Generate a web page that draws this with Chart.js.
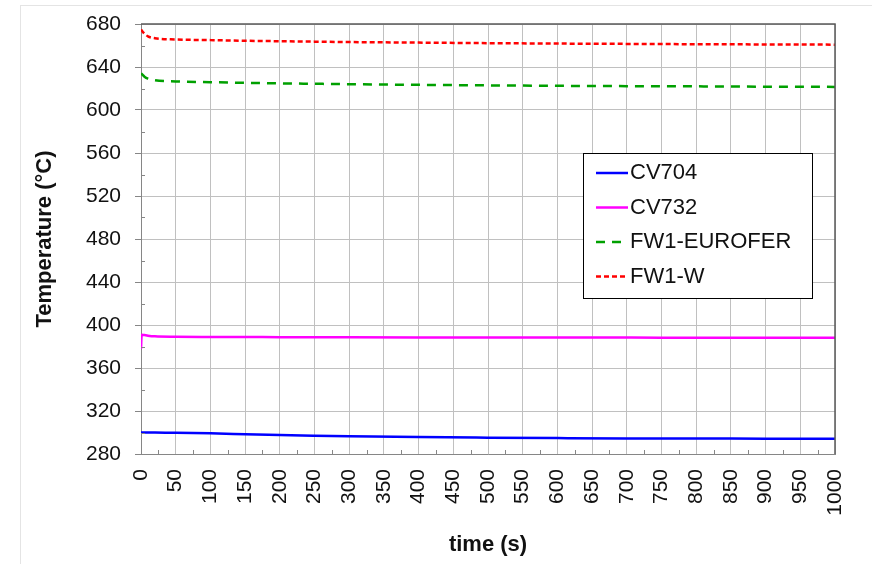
<!DOCTYPE html>
<html>
<head>
<meta charset="utf-8">
<script src="https://cdn.jsdelivr.net/npm/chart.js@4/dist/chart.umd.min.js"></script>
<style>
  body { margin: 0; background: #fff; }
  #frame { position: absolute; left: 20px; top: 5px; width: 860px; height: 570px;
           border-top: 1px solid #e4e4e4; border-left: 1px solid #e4e4e4; }
  #chart { position: absolute; left: 0; top: 0; }
</style>
</head>
<body>
<div id="frame"></div>
<canvas id="chart" width="872" height="564"></canvas>
<script>
// Time points (s)
const times = [0, 1, 5, 10, 20, 50, 100, 150, 200, 250, 300, 400, 500, 600, 700, 800, 900, 1000];

// Temperatures (°C)
const cv704 = [300, 300, 300, 300, 299.9, 299.7, 299.2, 298.4, 297.6, 297, 296.5, 295.7, 295.2, 294.8, 294.5, 294.4, 294.3, 294.2];
const cv732 = [378, 391, 390.6, 390.1, 389.5, 389.1, 388.9, 388.8, 388.7, 388.6, 388.5, 388.4, 388.4, 388.3, 388.3, 388.2, 388.2, 388.2];
const fw1Eurofer = [634, 633.5, 631, 629.2, 627.6, 626.6, 625.9, 625.3, 624.8, 624.4, 624, 623.4, 622.9, 622.5, 622.2, 622, 621.7, 621.5];
const fw1W = [675, 674, 671, 668.5, 666.8, 665.6, 665, 664.4, 664, 663.6, 663.2, 662.7, 662.2, 661.8, 661.5, 661.2, 661, 660.8];

const seriesNames = ['CV704', 'CV732', 'FW1-EUROFER', 'FW1-W'];
const seriesValues = [cv704, cv732, fw1Eurofer, fw1W];
const seriesColors = ['#0000ff', '#ff00ff', '#00a000', '#ff0000'];
const seriesDashes = [[], [], [9, 7], [5, 3]];

const FONT = 'Liberation Sans, Arial, sans-serif';

function toPoints(values) {
    return times.map((t, i) => ({ x: t, y: values[i] }));
}

// Dark frame on top/right, minor tick marks inside the plot, and the boxed legend
const extrasPlugin = {
    id: 'extras',
    afterDatasetsDraw(chart) {
        const ctx = chart.ctx;
        const area = chart.chartArea;
        const xs = chart.scales.x;
        const ys = chart.scales.y;
        ctx.save();

        // minor ticks
        ctx.strokeStyle = '#868686';
        ctx.lineWidth = 1;
        ctx.beginPath();
        for (let v = 25; v < 1000; v += 50) {
            const px = Math.round(xs.getPixelForValue(v)) + 0.5;
            ctx.moveTo(px, area.bottom);
            ctx.lineTo(px, area.bottom - 4);
        }
        for (let v = 300; v < 680; v += 40) {
            const py = Math.round(ys.getPixelForValue(v)) + 0.5;
            ctx.moveTo(area.left, py);
            ctx.lineTo(area.left + 4, py);
        }
        ctx.stroke();

        // top and right border
        ctx.strokeStyle = '#595959';
        ctx.lineWidth = 1.5;
        ctx.beginPath();
        ctx.moveTo(area.left, area.top);
        ctx.lineTo(area.right, area.top);
        ctx.lineTo(area.right, area.bottom);
        ctx.stroke();

        // legend
        const bx = area.left + 442, by = area.top + 129, bw = 229, bh = 145;
        ctx.fillStyle = '#ffffff';
        ctx.fillRect(bx, by, bw, bh);
        ctx.strokeStyle = '#000000';
        ctx.lineWidth = 1;
        ctx.strokeRect(bx + 0.5, by + 0.5, bw, bh);
        ctx.font = '22px ' + FONT;
        ctx.textBaseline = 'middle';
        ctx.textAlign = 'left';
        chart.data.datasets.forEach((ds, i) => {
            const cy = by + 20 + i * 34.5;
            ctx.strokeStyle = ds.borderColor;
            ctx.lineWidth = 2.5;
            ctx.setLineDash(ds.borderDash);
            ctx.beginPath();
            ctx.moveTo(bx + 13, cy);
            ctx.lineTo(bx + 45, cy);
            ctx.stroke();
            ctx.setLineDash([]);
            ctx.fillStyle = '#111111';
            ctx.fillText(ds.label, bx + 47, cy);
        });
        ctx.restore();
    }
};

const datasets = seriesNames.map((name, i) => ({
    label: name,
    data: toPoints(seriesValues[i]),
    borderColor: seriesColors[i],
    borderWidth: 2.5,
    borderDash: seriesDashes[i],
    pointRadius: 0,
    cubicInterpolationMode: 'monotone',
    fill: false
}));

new Chart(document.getElementById('chart').getContext('2d'), {
    type: 'line',
    data: { datasets: datasets },
    options: {
        responsive: false,
        animation: false,
        layout: { padding: { left: 0, top: 24, right: 37, bottom: 0 } },
        plugins: {
            legend: { display: false },
            tooltip: { enabled: false }
        },
        scales: {
            x: {
                type: 'linear',
                min: 0,
                max: 1000,
                afterFit: s => { s.height = 110; s.paddingLeft = 0; s.paddingRight = 0; },
                grid: { color: '#c0c0c0', lineWidth: 1, drawTicks: false },
                border: { color: '#868686', width: 1 },
                ticks: {
                    stepSize: 50,
                    minRotation: 90,
                    maxRotation: 90,
                    padding: 15,
                    autoSkip: false,
                    color: '#111111',
                    font: { size: 21, family: FONT },
                    callback: v => String(v)
                },
                title: {
                    display: true,
                    text: 'time (s)',
                    color: '#111111',
                    font: { size: 22, weight: 'bold', family: FONT },
                    padding: { top: 0, bottom: 6 }
                }
            },
            y: {
                min: 280,
                max: 680,
                afterFit: s => { s.width = 141; s.paddingTop = 0; s.paddingBottom = 0; },
                grid: { color: '#c0c0c0', lineWidth: 1, tickLength: 6, tickColor: '#868686' },
                border: { color: '#868686', width: 1 },
                ticks: {
                    stepSize: 40,
                    padding: 14,
                    color: '#111111',
                    font: { size: 21, family: FONT }
                },
                title: {
                    display: true,
                    text: 'Temperature (°C)',
                    color: '#111111',
                    font: { size: 22, weight: 'bold', family: FONT },
                    padding: { top: 32, bottom: 0 }
                }
            }
        }
    },
    plugins: [extrasPlugin]
});
</script>
</body>
</html>
